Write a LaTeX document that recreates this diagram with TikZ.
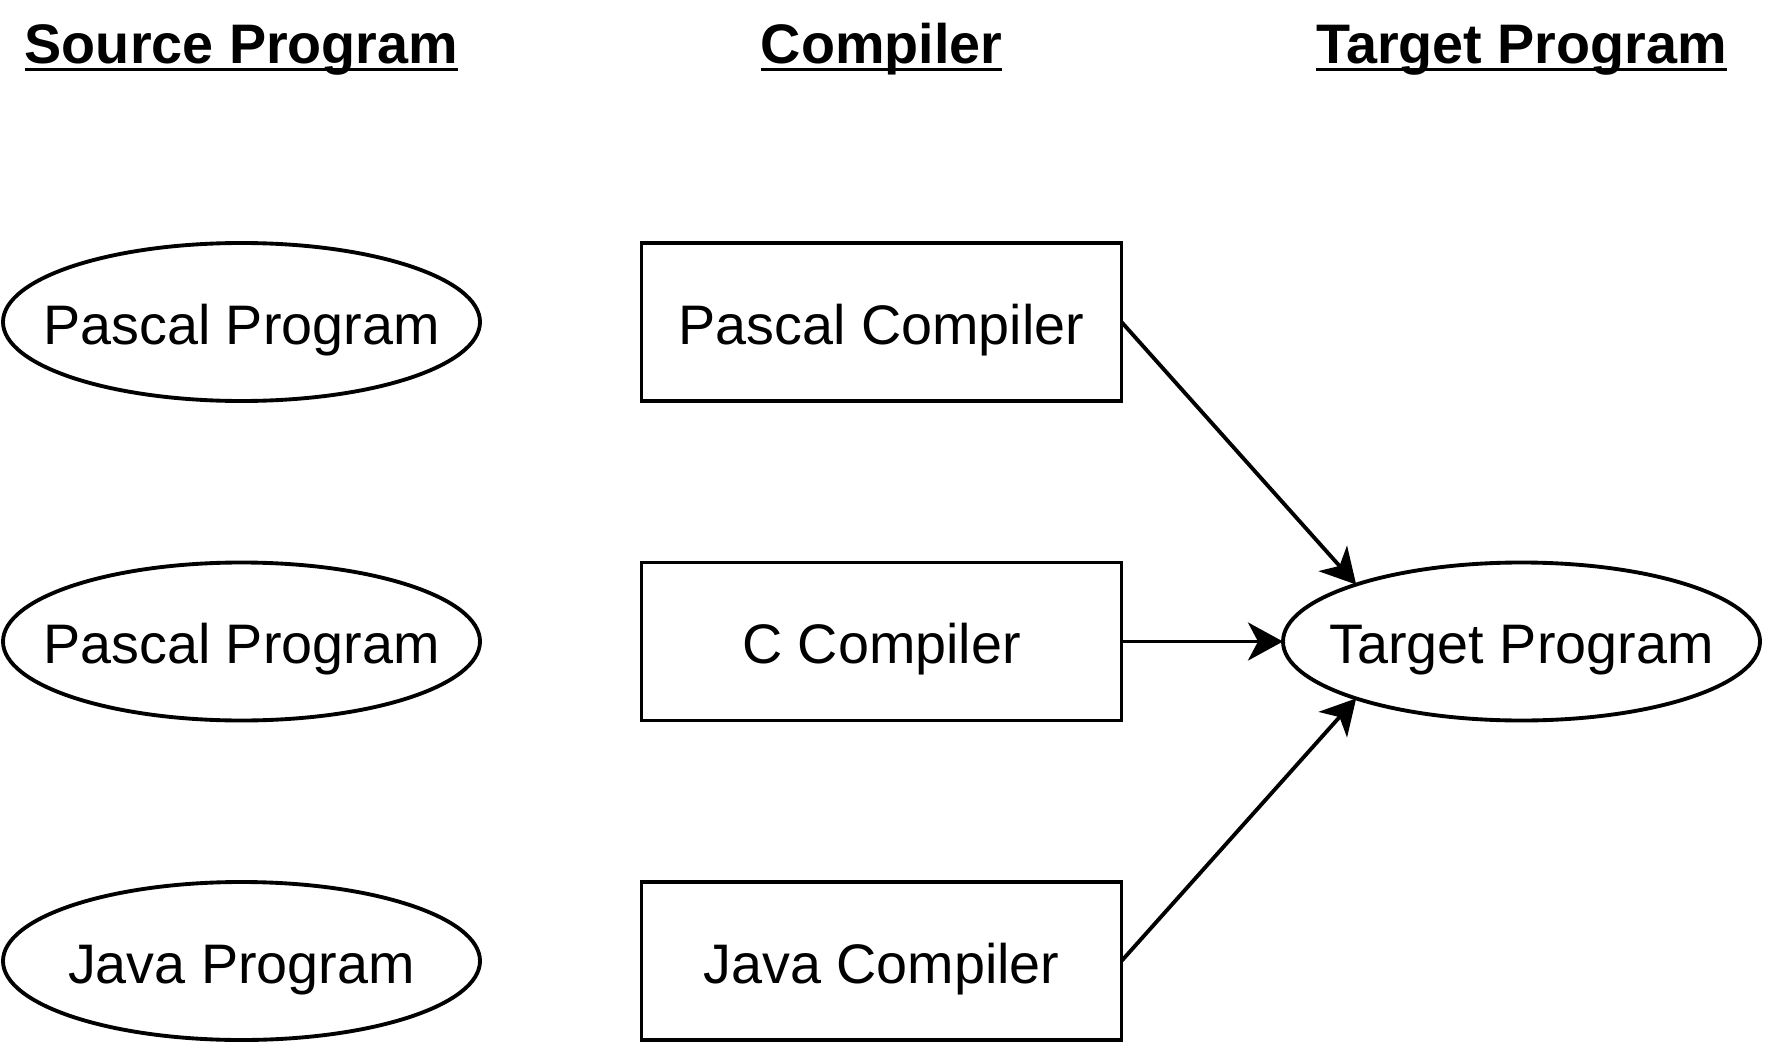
\documentclass[tikz,border=0pt]{standalone}
\usepackage{fontspec}
\setmainfont{Liberation Sans}
\usetikzlibrary{shapes,positioning,arrows.meta}
\newcommand{\headul}[1]{\setbox0\hbox{#1}\rlap{\rule[-0.146cm]{\wd0}{0.066cm}}\box0}
\newcommand{\ovaltext}[1]{\makebox[0pt]{#1}}

\begin{document}
\begin{tikzpicture}[node distance=3.23cm, outer sep=0pt, line width=2.2pt,
    prog/.style={draw, ellipse, inner sep=0pt, minimum width=9.54cm, minimum height=3.16cm, text height=0.96cm, text depth=0.08cm, font=\fontsize{31.7}{38}\selectfont},
    comp/.style={draw, rectangle, minimum width=9.6cm, minimum height=3.16cm, text height=0.96cm, text depth=0.08cm, font=\fontsize{31.7}{38}\selectfont},
    head/.style={anchor=base, font=\fontsize{31.7}{38}\selectfont\bfseries},
    arr/.style={-{Stealth[length=0.7cm, width=0.76cm, inset=0.2cm]}}]
        \useasboundingbox (0,0) rectangle (35.36,-20.96);

        % Source programs
        \node [prog] (Pascal1) at (4.83,-6.44) {\ovaltext{Pascal Program}};
        \node [prog, below=of Pascal1] (Pascal2) {\ovaltext{Pascal Program}};
        \node [prog, below=of Pascal2] (Java1) {\ovaltext{Java Program}};

        % Compilers
        \node [comp, right=of Pascal1] (PascalC) {Pascal Compiler};
        \node [comp, right=of Pascal2] (CC) {C Compiler};
        \node [comp, right=of Java1] (JavaC) {Java Compiler};

        % Target
        \node [prog, right=of CC] (Target) {\ovaltext{Target Program}};

        % Headings
        \node [head] (SrcHead) at (Pascal1 |- 0,-1.28) {\headul{Source Program}};
        \node [head] (CompHead) at (PascalC |- 0,-1.28) {\headul{Compiler}};
        \node [head] (TgtHead) at (Target |- 0,-1.28) {\headul{Target Program}};

        % Arrows
        \draw [arr] (PascalC.east) -- (Target.161);
        \draw [arr] (CC.east) -- (Target.west);
        \draw [arr] (JavaC.east) -- (Target.199);
    \end{tikzpicture}
\end{document}
